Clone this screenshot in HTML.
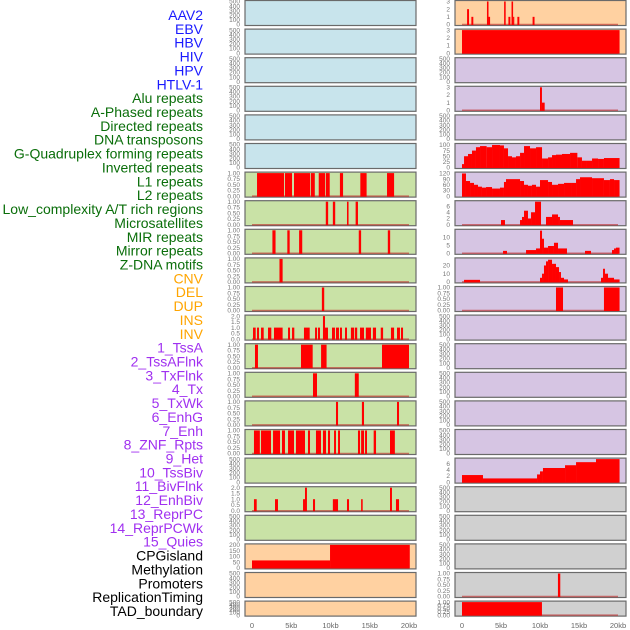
<!DOCTYPE html>
<html><head><meta charset="utf-8"><style>
html,body{margin:0;padding:0;background:#fff;width:630px;height:630px;overflow:hidden}
svg{display:block;font-family:"Liberation Sans",sans-serif}
</style></head><body>
<svg id="chart" width="630" height="630"></svg>
<script>
// ---- labels ----
const labelNames = ["AAV2","EBV","HBV","HIV","HPV","HTLV-1","Alu repeats","A-Phased repeats","Directed repeats","DNA transposons","G-Quadruplex forming repeats","Inverted repeats","L1 repeats","L2 repeats","Low_complexity A/T rich regions","Microsatellites","MIR repeats","Mirror repeats","Z-DNA motifs","CNV","DEL","DUP","INS","INV","1_TssA","2_TssAFlnk","3_TxFlnk","4_Tx","5_TxWk","6_EnhG","7_Enh","8_ZNF_Rpts","9_Het","10_TssBiv","11_BivFlnk","12_EnhBiv","13_ReprPC","14_ReprPCWk","15_Quies","CPGisland","Methylation","Promoters","ReplicationTiming","TAD_boundary"];
const labelGroups = ["v","v","v","v","v","v","r","r","r","r","r","r","r","r","r","r","r","r","r","s","s","s","s","s","c","c","c","c","c","c","c","c","c","c","c","c","c","c","c","o","o","o","o","o"];
const xTickKb = [0,5,10,15,20];
const xTickLabels = ["0","5kb","10kb","15kb","20kb"];

// ---- track data: [startKb, endKb, value] ----
const aluRepeats = [[0.64,4.08,1],[4.2,5.1,1],[5.35,7.4,1],[7.5,8.0,1],[8.5,9.3,1],[9.4,9.9,1],[11.2,11.6,1],[13.8,14.6,1],[17.2,18.1,1]];
const aPhased = [[9.4,9.7,1],[10.3,10.6,1],[12.1,12.3,1],[13.2,13.5,1]];
const directed = [[2.6,3.0,1],[4.5,4.8,1],[6.0,6.4,1],[13.6,13.9,1],[17.3,17.6,1]];
const dnaTransposons = [[3.5,3.9,1]];
const gQuad = [[8.9,9.2,1]];
const inverted = [[0.13,0.47,1],[0.64,0.89,1],[1.15,1.49,1],[2.04,2.46,1],[2.8,3.9,1],[4.59,4.84,1],[5.1,5.39,1],[6.62,7.35,1],[8.03,8.28,1],[8.4,8.66,1],[9.04,9.3,2],[9.3,9.68,1],[10.19,10.57,1],[10.7,11.08,1],[11.21,11.46,1],[11.85,12.1,1],[12.6,13.0,1],[13.1,13.4,1],[13.76,14.27,1],[14.5,15.16,1],[15.4,15.8,1],[16.4,16.7,1],[17.7,18.1,1],[18.47,18.85,1],[18.98,19.24,1]];
const l1 = [[0.38,0.76,1],[6.24,7.73,1],[8.8,9.5,1],[16.56,20,1]];
const l2 = [[7.77,8.28,1],[13.1,13.6,1]];
const lowComplexity = [[10.7,10.96,1],[14.0,14.27,1],[18.47,18.73,1]];
const microsatellites = [[0.25,1.0,1],[1.15,2.42,1],[2.68,3.57,1],[3.82,4.2,1],[4.59,5.35,1],[5.6,6.75,1],[7.13,7.39,1],[8.15,8.79,1],[9.04,9.43,1],[9.68,9.94,1],[10.45,10.7,1],[10.96,11.21,1],[13.5,13.76,1],[13.9,14.27,1],[14.4,14.65,1],[15.5,15.8,1],[17.58,18.2,1]];
const mirror = [[0.25,0.6,1],[2.93,3.31,1],[6.5,6.75,1],[6.75,7.0,2],[7.77,8.03,1],[10.3,10.96,1],[12.1,12.36,1],[13.9,14.1,1],[17.58,17.83,2],[18.34,18.73,1]];
const cnv = [[0,9.94,65],[9.94,20.1,200]];
const ins = [[0.65,0.9,2],[1.2,1.45,1],[3.2,3.4,3],[3.4,3.6,1],[5.4,5.6,3],[5.95,6.2,1],[6.35,6.55,3],[6.55,6.7,1],[7.1,7.35,1],[9.05,9.3,1]];
const inv = [[0,20.2,3]];
const tssAFlnk = [[10.0,10.25,3],[10.25,10.6,1]];
const tx = [[0,0.26,15],[0.26,0.77,50],[0.77,1.28,60],[1.28,1.79,75],[1.79,2.31,90],[2.31,3.16,95],[3.16,3.85,90],[3.85,4.87,100],[4.87,5.38,98],[5.38,5.9,85],[5.9,6.41,50],[6.41,6.92,45],[6.92,7.44,50],[7.44,7.95,65],[7.95,8.72,95],[8.72,9.49,85],[9.49,10.26,90],[10.26,11.03,40],[11.03,11.54,45],[11.54,12.05,55],[12.05,12.82,57],[12.82,13.85,60],[13.85,14.79,65],[14.79,15.38,45],[15.38,15.9,30],[15.9,16.67,30],[16.67,17.44,40],[17.44,18.2,38],[18.2,20.2,42]];
const txWk = [[0,0.51,120],[0.51,1.03,80],[1.03,1.54,70],[1.54,2.05,60],[2.05,2.56,50],[2.56,3.08,45],[3.08,3.85,48],[3.85,4.87,40],[4.87,5.38,45],[5.38,5.64,75],[5.64,7.44,90],[7.44,7.95,80],[7.95,8.46,60],[8.46,8.97,55],[8.97,9.49,60],[9.49,10.0,50],[10.0,11.03,85],[11.03,11.54,75],[11.54,12.31,60],[12.31,13.08,65],[13.08,14.1,70],[14.1,14.62,70],[14.62,15.13,90],[15.13,16.67,100],[16.67,18.2,95],[18.2,18.97,85],[18.97,19.49,90],[19.49,20.2,85]];
const enhG = [[5.0,5.51,1.5],[7.44,7.69,1.5],[7.69,7.95,2.5],[7.95,8.46,4.5],[8.46,8.85,2],[8.85,9.36,4],[9.36,10.13,7.5],[10.77,11.54,2.5],[11.54,12.31,3.3],[12.31,12.56,2.5],[12.56,14.23,1.5]];
const enh = [[5.26,5.77,1.5],[8.21,9.49,2],[9.49,10.0,3],[10.0,10.26,14],[10.26,10.51,9],[10.51,11.03,3.5],[11.03,11.79,4.5],[11.79,12.31,6.5],[12.31,13.46,3],[15.77,16.54,1.5],[19.23,19.49,2],[19.49,19.74,3],[19.74,20.2,3.5]];
const znf = [[0.26,2.31,2.5],[10.0,10.26,5],[10.26,10.51,10],[10.51,10.77,20],[10.77,11.03,25],[11.03,11.54,27],[11.54,12.05,22],[12.05,12.44,18],[12.44,12.69,12],[12.69,13.08,5],[13.08,13.59,3],[17.82,18.08,5],[18.08,18.33,16],[18.33,18.72,10],[18.72,19.49,5],[19.49,20.2,3]];
const het = [[12.05,12.95,1],[18.2,20.2,1]];
const quies = [[0,2.69,2.3],[2.69,9.62,1.2],[9.62,10.0,2.5],[10.0,10.38,3.5],[10.38,13.21,4.6],[13.21,14.62,5.5],[14.62,17.18,6.5],[17.18,20.2,7.6]];
const replication = [[12.3,12.6,1]];
const tad = [[0,10.25,1]];
const empty = [];

// ---- y-axis tick sets ----
const ticksEmpty = [0,100,200,300,400,500];
const ticksUnit = [0,0.25,0.5,0.75,1];
const ticksTwo = [0,0.5,1,1.5,2];
const ticksThree = [0,1,2,3];
const ticksCnv = [0,50,100,150,200];
const ticksTx = [0,25,50,75,100];
const ticksTxWk = [0,30,60,90,120];
const ticksSix = [0,2,4,6];
const ticksTen = [0,5,10];
const ticksTwenty = [0,10,20];

// track order (column-major): [data, ymax, ticks, decimals]
const tracks = [
 [empty,500,ticksEmpty,0],[empty,500,ticksEmpty,0],[empty,500,ticksEmpty,0],[empty,500,ticksEmpty,0],[empty,500,ticksEmpty,0],[empty,500,ticksEmpty,0],
 [aluRepeats,1,ticksUnit,2],[aPhased,1,ticksUnit,2],[directed,1,ticksUnit,2],[dnaTransposons,1,ticksUnit,2],[gQuad,1,ticksUnit,2],[inverted,2,ticksTwo,1],
 [l1,1,ticksUnit,2],[l2,1,ticksUnit,2],[lowComplexity,1,ticksUnit,2],[microsatellites,1,ticksUnit,2],[empty,500,ticksEmpty,0],[mirror,2,ticksTwo,1],[empty,500,ticksEmpty,0],
 [cnv,200,ticksCnv,0],[empty,500,ticksEmpty,0],[empty,500,ticksEmpty,0],
 [ins,3,ticksThree,0],[inv,3,ticksThree,0],
 [empty,500,ticksEmpty,0],[tssAFlnk,3,ticksThree,0],[empty,500,ticksEmpty,0],[tx,102,ticksTx,0],[txWk,122,ticksTxWk,0],[enhG,7.4,ticksSix,0],[enh,14.2,ticksTen,0],[znf,28,ticksTwenty,0],[het,1,ticksUnit,2],
 [empty,500,ticksEmpty,0],[empty,500,ticksEmpty,0],[empty,500,ticksEmpty,0],[empty,500,ticksEmpty,0],[empty,500,ticksEmpty,0],[quies,7.5,ticksSix,0],
 [empty,500,ticksEmpty,0],[empty,500,ticksEmpty,0],[empty,500,ticksEmpty,0],[replication,1,ticksUnit,2],[tad,1,ticksUnit,2]
];

const NS = "http://www.w3.org/2000/svg";
const svg = document.getElementById("chart");
function mk(tag, attrs, parent){const e=document.createElementNS(NS,tag);for(const k in attrs)e.setAttribute(k,attrs[k]);(parent||svg).appendChild(e);return e;}
const groupColor = {v:"#1a1aff",r:"#0a6e0a",s:"#ffa500",c:"#a030f0",o:"#000000"};
const groupBg = {v:"#c8e4ec",r:"#c9e2a6",s:"#ffd1a1",c:"#d6c5e3",o:"#d0d0d0"};
const cols = [{left:245,right:416,x0:252,x20:409},{left:455,right:626,x0:462,x20:618}];
function rowTop(i){return 0.5+28.6*i;}
function rowH(i){return i===21?15:25;}

// left labels
labelNames.forEach((name,i)=>{
  const t = mk("text",{x:203,y:20+i*13.86,"text-anchor":"end","font-size":"14",fill:groupColor[labelGroups[i]]});
  
  
  t.textContent = name;
});

tracks.forEach((tr,idx)=>{
  const col = cols[idx<22?0:1];
  const row = idx%22;
  const T = rowTop(row), H = rowH(row);
  const [data,ymax,ticks,dec] = tr;
  const xs = kb => col.x0 + kb/20*(col.x20-col.x0);
  const ys = v => T+H-1 - Math.min(v,ymax)/ymax*(H-2);
  const g = mk("g",{});
  
  
  mk("rect",{x:col.left,y:T,width:col.right-col.left,height:H,fill:groupBg[labelGroups[idx]],stroke:"#6a6a6a","stroke-width":1.2},g);
  // baseline
  if(data.length){
    const bl = mk("line",{x1:xs(0),x2:xs(20),y1:ys(0),y2:ys(0),stroke:"rgba(190,40,40,0.6)","stroke-width":1.5},g);
    
    
  }
  data.forEach(d=>{
    const r = mk("rect",{x:xs(d[0]),y:ys(d[2]),width:Math.max(1,xs(d[1])-xs(d[0])),height:ys(0)-ys(d[2])+0.5,fill:"#ff0000"},g);
    
    
  });
  ticks.forEach(tv=>{
    const t = mk("text",{x:col.left-5,y:ys(tv)+2.2,"text-anchor":"end","font-size":"6.5",fill:"#777"},g);
    
    
    t.textContent = tv.toFixed(dec);
  });
});

// bottom x axes
cols.forEach((col,ci)=>{
  xTickKb.forEach((kb,i)=>{
    const t = mk("text",{x:col.x0+kb/20*(col.x20-col.x0),y:628,"text-anchor":"middle","font-size":"7.5",fill:"#666"});
    
    
    t.textContent = xTickLabels[i];
  });
});
</script>
</body></html>
